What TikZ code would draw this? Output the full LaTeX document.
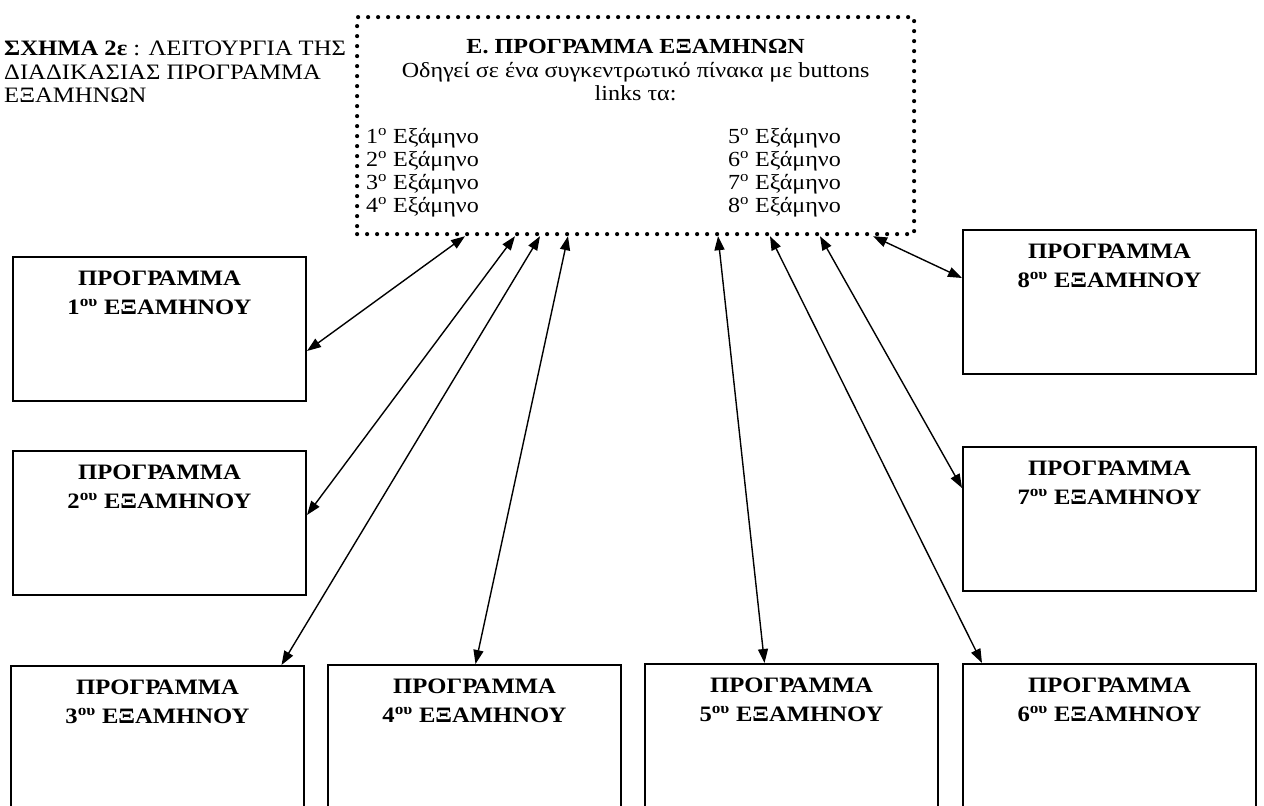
\documentclass[tikz,border=0pt]{standalone}
\usepackage{fontspec}
\setmainfont{Liberation Serif}[FakeStretch=1.12]
\usetikzlibrary{arrows.meta}
\begin{document}
\begin{tikzpicture}[x=1pt,y=-1pt,
  progbox/.style={draw, line width=2pt, anchor=north west, inner sep=0pt,
                  minimum width=293pt, minimum height=144pt},
  proglabel/.style={anchor=north, align=center, inner sep=0pt,
                    font=\fontsize{22}{28.5}\selectfont\bfseries},
  hub/.style={draw, line width=4.2pt, line cap=round, dash pattern=on 0pt off 10pt,
              anchor=north west, inner sep=0pt, minimum width=557pt, minimum height=217pt},
  caption/.style={inner sep=0pt, anchor=base west, text height=15pt, text depth=1pt,
                  font=\fontsize{22}{23}\selectfont},
  body/.style={inner sep=0pt, font=\fontsize{21.5}{23}\selectfont},
  link/.style={line width=1.4pt,
               {Triangle[length=14pt,width=10pt]}-{Triangle[length=14pt,width=10pt]}}]
\useasboundingbox (0,0) rectangle (1264,806);
\clip (0,0) rectangle (1264,806);

% caption at the upper left
\node[caption] (cap1) at (4,55) {\textbf{ΣΧΗΜΑ 2ε} : ΛΕΙΤΟΥΡΓΙΑ ΤΗΣ};
\node[caption] (cap2) at (4,79) {ΔΙΑΔΙΚΑΣΙΑΣ ΠΡΟΓΡΑΜΜΑ};
\node[caption] (cap3) at (4,102) {ΕΞΑΜΗΝΩΝ};

% central dotted panel
\node[hub] (hub) at (355,15) {};
\node[body, anchor=base, font=\fontsize{21.5}{23}\selectfont\bfseries] (htitle) at (hub.north |- 0,53) {Ε. ΠΡΟΓΡΑΜΜΑ ΕΞΑΜΗΝΩΝ};
\node[body, anchor=base] (hline1) at (hub.north |- 0,77) {Οδηγεί σε ένα συγκεντρωτικό πίνακα με buttons};
\node[body, anchor=base] (hline2) at (hub.north |- 0,100) {links τα:};
\node[body, anchor=base west] (s1) at (366,143) {1\textsuperscript{ο} Εξάμηνο};
\node[body, anchor=base west] (s2) at (366,166) {2\textsuperscript{ο} Εξάμηνο};
\node[body, anchor=base west] (s3) at (366,189) {3\textsuperscript{ο} Εξάμηνο};
\node[body, anchor=base west] (s4) at (366,212) {4\textsuperscript{ο} Εξάμηνο};
\node[body, anchor=base west] (s5) at (728,143) {5\textsuperscript{ο} Εξάμηνο};
\node[body, anchor=base west] (s6) at (728,166) {6\textsuperscript{ο} Εξάμηνο};
\node[body, anchor=base west] (s7) at (728,189) {7\textsuperscript{ο} Εξάμηνο};
\node[body, anchor=base west] (s8) at (728,212) {8\textsuperscript{ο} Εξάμηνο};

% semester boxes
\node[progbox] (b1) at (12,256) {};
\node[progbox] (b2) at (12,450) {};
\node[progbox, minimum height=170pt] (b3) at (10,665) {};
\node[progbox, minimum height=170pt] (b4) at (327,664) {};
\node[progbox, minimum height=170pt] (b5) at (644,663) {};
\node[progbox, minimum height=170pt] (b6) at (962,663) {};
\node[progbox] (b7) at (962,446) {};
\node[progbox] (b8) at (962,229) {};

\foreach \b/\n in {b1/1,b2/2,b3/3,b4/4,b5/5,b6/6,b7/7,b8/8}
  \node[proglabel] (\b t) at ([yshift=-15pt]\b.north) {ΠΡΟΓΡΑΜΜΑ\\\n\textsuperscript{ου} ΕΞΑΜΗΝΟΥ};

% links between the panel and the semester boxes
\draw[link] ([xshift=110pt]hub.south west) -- ([yshift=-22pt]b1.east);
\draw[link] ([xshift=160pt]hub.south west) -- ([yshift=8pt]b2.east);
\draw[link] ([xshift=185pt]hub.south west) -- ([xshift=124pt]b3.north);
\draw[link] ([xshift=213pt]hub.south west) -- ([xshift=1pt]b4.north);
\draw[link] ([xshift=363pt]hub.south west) -- ([xshift=-27pt]b5.north);
\draw[link] ([xshift=415pt]hub.south west) -- ([xshift=20pt]b6.north west);
\draw[link] ([xshift=465pt]hub.south west) -- ([yshift=31pt]b7.west);
\draw[link] ([xshift=518pt]hub.south west) -- ([yshift=24pt]b8.west);
\end{tikzpicture}
\end{document}
